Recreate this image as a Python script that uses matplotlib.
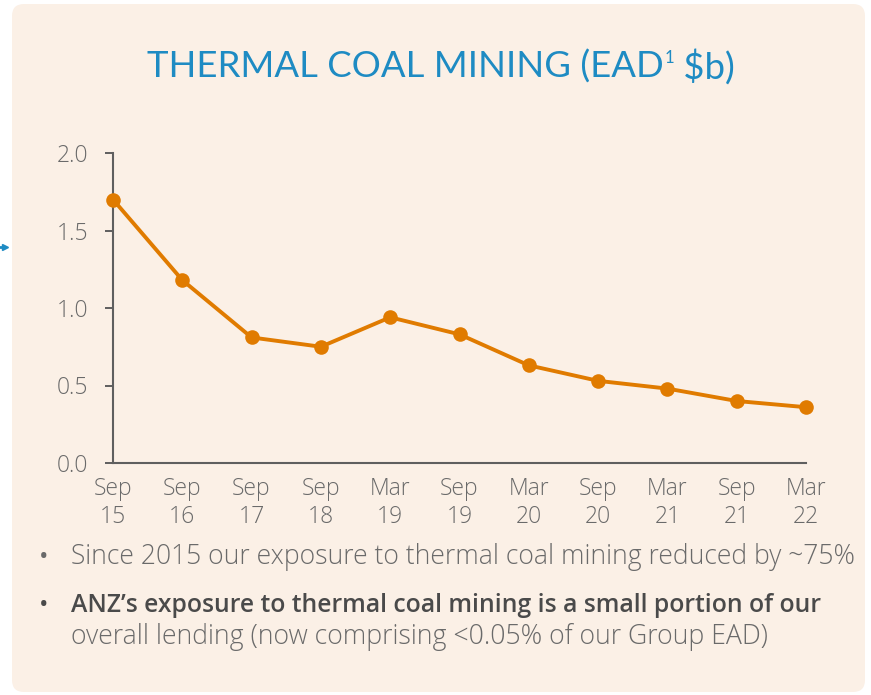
import matplotlib
matplotlib.use("Agg")
import matplotlib.pyplot as plt
from matplotlib.patches import FancyBboxPatch
from matplotlib.transforms import IdentityTransform
from matplotlib.lines import Line2D

periods = ["Sep\n15", "Sep\n16", "Sep\n17", "Sep\n18", "Mar\n19", "Sep\n19",
           "Mar\n20", "Sep\n20", "Mar\n21", "Sep\n21", "Mar\n22"]
ead_values = [1.70, 1.18, 0.81, 0.75, 0.94, 0.83, 0.63, 0.53, 0.48, 0.40, 0.36]
y_ticks = [0.0, 0.5, 1.0, 1.5, 2.0]
y_tick_labels = ["0.0", "0.5", "1.0", "1.5", "2.0"]

W, H = 871, 695
fig = plt.figure(figsize=(W / 100, H / 100), dpi=100)
fig.patch.set_facecolor("white")

panel_col = "#FBF0E6"
orange = "#E07B00"
grey_axis = "#5F5F5F"
grey_text = "#6A6A6A"
blue = "#1E8BC3"

# rounded background panel (pixel coordinates, origin bottom-left)
panel = FancyBboxPatch((12, 3), 853, 688, boxstyle="round,pad=0,rounding_size=12",
                       transform=IdentityTransform(), facecolor=panel_col,
                       edgecolor="none", zorder=-5)
fig.patches.append(panel)

# small blue arrow cut off on the left edge
fig.lines.append(Line2D([0, 4], [H - 247, H - 247], transform=IdentityTransform(),
                        color=blue, lw=2, zorder=-4))
fig.lines.append(Line2D([5], [H - 247], transform=IdentityTransform(), color=blue,
                        marker=">", markersize=4, lw=0, zorder=-4))

light = ["Open Sans", "DejaVu Sans"]

# axes
ax_l, ax_r, ax_t, ax_b = 113, 806, 153, 463
ax = fig.add_axes([ax_l / W, (H - ax_b) / H, (ax_r - ax_l) / W, (ax_b - ax_t) / H])
ax.set_zorder(2)
ax.set_facecolor("none")
x = list(range(len(periods)))
ax.plot(x, ead_values, color=orange, lw=2.8, marker="o", markersize=10.5,
        markeredgewidth=0, clip_on=False, zorder=3)
ax.set_xlim(0, len(periods) - 1)
ax.set_ylim(0, 2.0)
ax.set_yticks(y_ticks)
ax.set_yticklabels(y_tick_labels)
ax.set_xticks(x)
ax.set_xticklabels(periods, linespacing=1.22)
for s in ["top", "right"]:
    ax.spines[s].set_visible(False)
for s in ["left", "bottom"]:
    ax.spines[s].set_color(grey_axis)
    ax.spines[s].set_linewidth(1.5)
ax.tick_params(axis="y", length=6, width=1.4, color=grey_axis, pad=12,
               labelsize=16.5, labelcolor=grey_text)
ax.tick_params(axis="x", length=0, pad=10, labelsize=16.5, labelcolor=grey_text)
for lab in ax.get_xticklabels() + ax.get_yticklabels():
    lab.set_fontfamily(light)
    lab.set_fontweight("light")

# title built from pieces so the footnote marker stays small
title_family = ["Lato", "DejaVu Sans"]
title_y = 1 - 67 / H
title_fs = 26.3
fig.canvas.draw()
renderer = fig.canvas.get_renderer()
t1 = fig.text(0, title_y, "THERMAL COAL MINING (EAD", ha="left", va="center",
              color=blue, fontsize=title_fs, family=title_family)
t2 = fig.text(0, title_y, "1", ha="left", va="center", color=blue, fontsize=12,
              family=title_family)
t3 = fig.text(0, title_y, " $b)", ha="left", va="center", color=blue,
              fontsize=title_fs, family=title_family)
w1 = t1.get_window_extent(renderer).width
w2 = t2.get_window_extent(renderer).width
w3 = t3.get_window_extent(renderer).width
total = w1 + w2 + 1 + w3
x0 = 441 - total / 2
t1.set_x(x0 / W)
t2.set_x((x0 + w1 + 1) / W)
t2.set_y(1 - 58 / H)
t3.set_x((x0 + w1 + 1 + w2) / W)

# bullets
fig.text(44 / W, 1 - 557 / H, "•", ha="center", va="center", color=grey_text,
         fontsize=18, family=light)
fig.text(71 / W, 1 - 557 / H,
         "Since 2015 our exposure to thermal coal mining reduced by ~75%",
         ha="left", va="center", color=grey_text, fontsize=19.1, family=light,
         fontweight="light")
fig.text(44 / W, 1 - 605 / H, "•", ha="center", va="center", color="#4A4A4A",
         fontsize=18, family=light)
fig.text(71 / W, 1 - 605 / H,
         "ANZ’s exposure to thermal coal mining is a small portion of our",
         ha="left", va="center", color="#4A4A4A", fontsize=17.8, family=light,
         fontweight="semibold")
fig.text(71 / W, 1 - 637 / H,
         "overall lending (now comprising <0.05% of our Group EAD)",
         ha="left", va="center", color=grey_text, fontsize=19.2, family=light,
         fontweight="light")

fig.savefig("out.png", dpi=100, facecolor=fig.get_facecolor())
